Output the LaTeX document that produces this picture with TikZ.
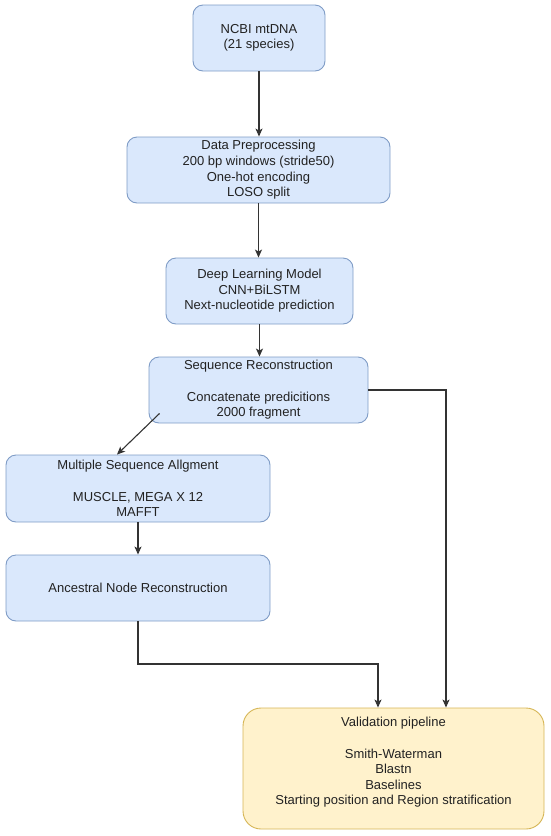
\documentclass[tikz,border=0pt]{standalone}
\usepackage{fontspec}
\setmainfont{Liberation Sans}
\usetikzlibrary{arrows.meta}
\definecolor{bfill}{HTML}{DAE8FC}
\definecolor{bline}{HTML}{7F9CC6}
\definecolor{yfill}{HTML}{FFF2CC}
\definecolor{yline}{HTML}{D6B656}
\definecolor{ink}{HTML}{222222}
\definecolor{wire}{HTML}{333333}
\tikzset{
  bluebox/.style={draw=bline, fill=bfill, line width=0.9pt, rounded corners=10pt,
    inner sep=0pt, align=center, text=ink,
    font=\fontsize{13pt}{15.6pt}\selectfont},
  yellowbox/.style={draw=yline, fill=yfill, line width=0.9pt, rounded corners=18pt,
    inner sep=0pt, align=center, text=ink,
    font=\fontsize{13pt}{15.6pt}\selectfont},
  wirearrow/.style={draw=wire, line width=1.1pt,
    -{Stealth[length=8pt,width=7pt,inset=2pt]}}
}
\begin{document}
\begin{tikzpicture}[x=1pt,y=-1pt]
\useasboundingbox (0,0) rectangle (550,836);
\node[bluebox, minimum width=132pt, minimum height=66pt] (b1) at (259,38)
  {NCBI mtDNA\\(21 species)};
\node[bluebox, minimum width=263pt, minimum height=66pt] (b2) at (258.5,170)
  {Data Preprocessing\\200 bp windows (stride50)\\One-hot encoding\\LOSO split};
\node[bluebox, minimum width=187pt, minimum height=66pt] (b3) at (259.5,291)
  {Deep Learning Model\\CNN+BiLSTM\\Next-nucleotide prediction};
\node[bluebox, minimum width=219pt, minimum height=66pt] (b4) at (258.5,390)
  {Sequence Reconstruction\\[15.6pt]Concatenate predicitions\\2000 fragment};
\node[bluebox, minimum width=264pt, minimum height=67pt] (b5) at (138,488.5)
  {Multiple Sequence Allgment\\[15.6pt]MUSCLE, MEGA X 12\\MAFFT};
\node[bluebox, minimum width=264pt, minimum height=66pt] (b6) at (138,588)
  {Ancestral Node Reconstruction};
\node[yellowbox, minimum width=301pt, minimum height=121pt] (b7) at (393.5,768.5)
  {Validation pipeline\\[15.6pt]Smith-Waterman\\Blastn\\Baselines\\Starting position and Region stratification\\[-1pt]\mbox{}};
\coordinate (c1) at (0,664);
\draw[wirearrow] (b1.south) -- (b1.south |- b2.north);
\draw[wirearrow] (b2.south) -- (b2.south |- b3.north);
\draw[wirearrow] (b3.south) -- (b3.south |- b4.north);
\draw[wirearrow] ([shift={(11pt,10pt)}]b4.south west) -- ([xshift=-21pt]b5.north);
\draw[wirearrow] (b5.south) -- (b5.south |- b6.north);
\draw[wirearrow] (b4.east) -| ([xshift=52.5pt]b7.north);
\draw[wirearrow] (b6.south) -- (b6.south |- c1) -| ([xshift=-15.5pt]b7.north);
\end{tikzpicture}
\end{document}
